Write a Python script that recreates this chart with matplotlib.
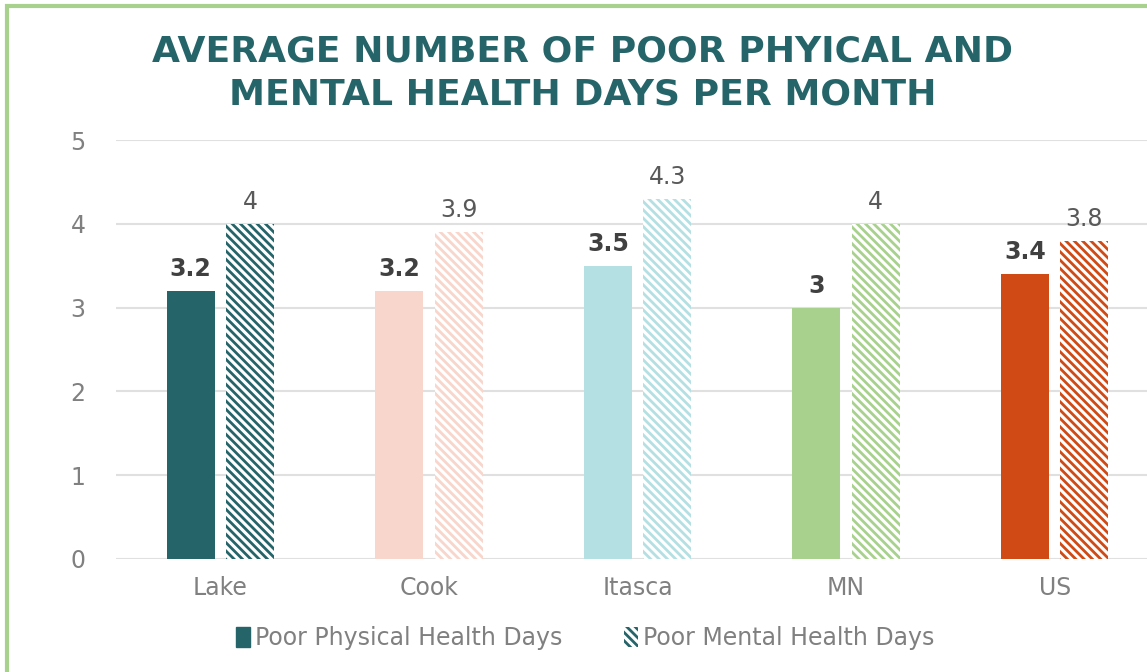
import numpy as np
import matplotlib
matplotlib.use("Agg")
import matplotlib.pyplot as plt
from matplotlib.patches import Rectangle, Patch

categories = ["Lake", "Cook", "Itasca", "MN", "US"]
physical = [3.2, 3.2, 3.5, 3.0, 3.4]
mental = [4.0, 3.9, 4.3, 4.0, 3.8]
colors = ["#256569", "#F8D6CB", "#B4E0E3", "#A9D18E", "#D04A16"]

plt.rcParams["font.family"] = ["DejaVu Sans"]
plt.rcParams["hatch.linewidth"] = 2.0

HATCH = "\\" * 4

fig = plt.figure(figsize=(11.47, 6.72), dpi=100)
ax = fig.add_axes([116 / 1147, 1 - 559 / 672, (1159 - 116) / 1147, (559 - 140) / 672])

x = np.arange(len(categories))
w = 0.23
off = 0.142
for i in range(len(categories)):
    ax.bar(x[i] - off, physical[i], w, color=colors[i], zorder=3)
    ax.bar(x[i] + off, mental[i], w, facecolor="white", edgecolor=colors[i],
           hatch=HATCH, linewidth=0, zorder=3)
    ax.text(x[i] - off, physical[i] + 0.12, f"{physical[i]:g}", ha="center", va="bottom",
            fontsize=17, fontweight="bold", color="#404040")
    ax.text(x[i] + off, mental[i] + 0.12, f"{mental[i]:g}", ha="center", va="bottom",
            fontsize=17, color="#595959")

ax.set_xlim(-0.5, len(categories) - 0.5)
ax.set_ylim(0, 5)
ax.set_yticks(range(6))
ax.set_xticks(x)
ax.set_xticklabels(categories)
ax.tick_params(axis="both", length=0, labelsize=17, labelcolor="#808080")
ax.tick_params(axis="x", pad=12)
ax.tick_params(axis="y", pad=22)
ax.grid(axis="y", color="#E0E0E0", linewidth=1.5, zorder=0)
for s in ax.spines.values():
    s.set_visible(False)

fig.text(0.508, 1 - 73 / 672, "AVERAGE NUMBER OF POOR PHYICAL AND\nMENTAL HEALTH DAYS PER MONTH",
         ha="center", va="center", fontsize=26, fontweight="bold", color="#256569",
         linespacing=1.3)

handles = [Patch(facecolor=colors[0], edgecolor=colors[0]),
           Patch(facecolor="white", edgecolor=colors[0], hatch=HATCH, linewidth=0)]
fig.legend(handles, ["Poor Physical Health Days", "Poor Mental Health Days"],
           loc="center", bbox_to_anchor=(0.51, 1 - 638 / 672), ncol=2, frameon=False,
           fontsize=17, labelcolor="#808080", handlelength=0.6, handleheight=0.9,
           handletextpad=0.2, columnspacing=2.6)

fig.patches.append(Rectangle((7 / 1147, -0.1), 1.2, 1 - 6 / 672 + 0.1, transform=fig.transFigure,
                             fill=False, edgecolor="#A9D18E", linewidth=3))

fig.savefig("out.png", dpi=100)
